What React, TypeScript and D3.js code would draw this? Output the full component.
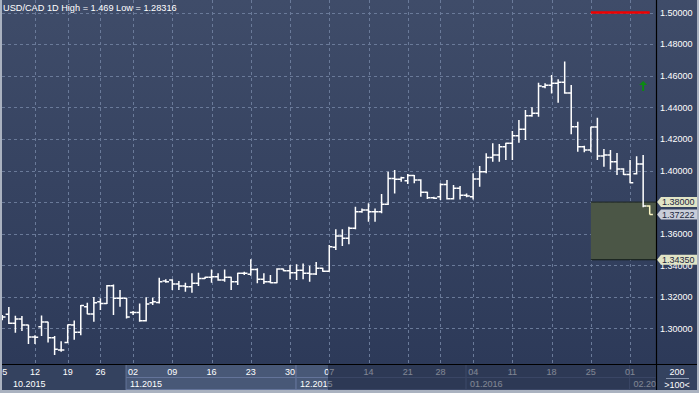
import { useEffect, useRef } from 'react';
import * as d3 from 'd3';

// daily bars, USD/CAD 1D (05.10.2015 .. 02.02.2016)
const opens = [
  1.3066, 1.3090, 1.3033, 1.3060, 1.3022, 1.2946, 1.3011, 1.3041, 1.2941, 1.2864,
  1.2912, 1.3022, 1.2976, 1.3138, 1.3091, 1.3169, 1.3159, 1.3271, 1.3191, 1.3191,
  1.3102, 1.3102, 1.3049, 1.3163, 1.3165, 1.3300, 1.3307, 1.3281, 1.3269, 1.3264,
  1.3286, 1.3317, 1.3324, 1.3327, 1.3307, 1.3324, 1.3296, 1.3349, 1.3343, 1.3374,
  1.3311, 1.3296, 1.3289, 1.3376, 1.3365, 1.3353, 1.3368, 1.3349, 1.3345, 1.3381,
  1.3362, 1.3514, 1.3585, 1.3571, 1.3634, 1.3739, 1.3750, 1.3739, 1.3739, 1.3786,
  1.3950, 1.3944, 1.3935, 1.3969, 1.3940, 1.3862, 1.3828, 1.3834, 1.3912, 1.3821,
  1.3887, 1.3843, 1.3834, 1.3946, 1.3992, 1.4083, 1.4098, 1.4150, 1.4172, 1.4220,
  1.4261, 1.4347, 1.4362, 1.4530, 1.4540, 1.4552, 1.4558, 1.4490, 1.4277, 1.4150,
  1.4130, 1.4275, 1.4092, 1.4098, 1.4055, 1.4009, 1.3975, 1.3980, 1.4041, 1.3775,
];
const highs = [
  1.3085, 1.3136, 1.3081, 1.3079, 1.3024, 1.2958, 1.3083, 1.3043, 1.2952, 1.2920,
  1.3026, 1.3051, 1.3148, 1.3163, 1.3199, 1.3191, 1.3275, 1.3279, 1.3243, 1.3195,
  1.3110, 1.3159, 1.3197, 1.3195, 1.3321, 1.3311, 1.3311, 1.3300, 1.3289, 1.3349,
  1.3353, 1.3327, 1.3374, 1.3349, 1.3374, 1.3327, 1.3353, 1.3359, 1.3438, 1.3381,
  1.3349, 1.3338, 1.3381, 1.3378, 1.3402, 1.3406, 1.3412, 1.3397, 1.3421, 1.3384,
  1.3528, 1.3628, 1.3628, 1.3644, 1.3771, 1.3760, 1.3792, 1.3760, 1.3851, 1.3992,
  1.4003, 1.3960, 1.3978, 1.3971, 1.3944, 1.3866, 1.3834, 1.3919, 1.3940, 1.3908,
  1.3902, 1.3855, 1.3982, 1.4028, 1.4109, 1.4172, 1.4167, 1.4176, 1.4250, 1.4319,
  1.4383, 1.4400, 1.4556, 1.4552, 1.4604, 1.4577, 1.4690, 1.4541, 1.4309, 1.4157,
  1.4277, 1.4334, 1.4136, 1.4130, 1.4111, 1.4014, 1.4066, 1.4090, 1.4098, 1.3780,
];
const lows = [
  1.3053, 1.3028, 1.2973, 1.2984, 1.2902, 1.2902, 1.2952, 1.2912, 1.28316, 1.2853,
  1.2906, 1.2929, 1.2958, 1.3090, 1.3043, 1.3117, 1.3155, 1.3085, 1.3138, 1.3064,
  1.3085, 1.3043, 1.3045, 1.3148, 1.3159, 1.3289, 1.3243, 1.3243, 1.3233, 1.3226,
  1.3269, 1.3313, 1.3289, 1.3302, 1.3296, 1.3243, 1.3275, 1.3338, 1.3334, 1.3286,
  1.3281, 1.3286, 1.3286, 1.3362, 1.3311, 1.3307, 1.3311, 1.3296, 1.3338, 1.3359,
  1.3359, 1.3497, 1.3522, 1.3534, 1.3628, 1.3733, 1.3676, 1.3676, 1.3729, 1.3781,
  1.3855, 1.3929, 1.3914, 1.3919, 1.3834, 1.3819, 1.3819, 1.3813, 1.3817, 1.3817,
  1.3817, 1.3830, 1.3817, 1.3897, 1.3982, 1.4055, 1.4055, 1.4066, 1.4066, 1.4176,
  1.4193, 1.4340, 1.4340, 1.4520, 1.4488, 1.4429, 1.4485, 1.4229, 1.4119, 1.4115,
  1.4115, 1.4066, 1.4024, 1.4007, 1.3971, 1.3971, 1.3919, 1.3975, 1.3767, 1.37222,
];
const closes = [
  1.3072, 1.3033, 1.3060, 1.3022, 1.2946, 1.2944, 1.3041, 1.2941, 1.2868, 1.2864,
  1.3024, 1.2976, 1.3146, 1.3091, 1.3163, 1.3159, 1.3271, 1.3191, 1.3191, 1.3072,
  1.3102, 1.3049, 1.3155, 1.3169, 1.3296, 1.3296, 1.3281, 1.3269, 1.3264, 1.3286,
  1.3317, 1.3324, 1.3327, 1.3307, 1.3324, 1.3296, 1.3349, 1.3349, 1.3374, 1.3311,
  1.3296, 1.3289, 1.3376, 1.3365, 1.3353, 1.3368, 1.3349, 1.3345, 1.3381, 1.3362,
  1.3517, 1.3585, 1.3571, 1.3634, 1.3739, 1.3750, 1.3739, 1.3739, 1.3786, 1.3950,
  1.3944, 1.3954, 1.3969, 1.3940, 1.3862, 1.3828, 1.3824, 1.3912, 1.3821, 1.3887,
  1.3843, 1.3838, 1.3946, 1.3992, 1.4083, 1.4098, 1.4150, 1.4172, 1.4220, 1.4261,
  1.4347, 1.4362, 1.4535, 1.4540, 1.4552, 1.4558, 1.4490, 1.4277, 1.4150, 1.4130,
  1.4275, 1.4092, 1.4098, 1.4055, 1.4009, 1.3975, 1.3923, 1.4041, 1.3775, 1.37222,
];

const dayLabels = ['05', '12', '19', '26', '02', '09', '16', '23', '30', '07', '14', '21', '28', '04', '11', '18', '25', '01'];
const dayIndex = [0, 5, 10, 15, 20, 26, 32, 38, 44, 50, 56, 62, 67, 72, 78, 84, 90, 96];
const monthLabels = ['10.2015', '11.2015', '12.2015', '01.2016', '02.2016'];
const monthIndex = [0, 19, 45, 71, 96];
const priceTicks = [1.30, 1.32, 1.34, 1.36, 1.38, 1.40, 1.42, 1.44, 1.46, 1.48, 1.50];

const alertLevel = 1.5;
const zoneTop = 1.38;
const zoneBottom = 1.3435;
const lastPrice = 1.37222;
const zoneFrom = 90;
const arrowAt = 98;
const arrowPrice = 1.4535;

const FONT = "'Liberation Sans', Arial, sans-serif";

const App = () => {
  const svgRef = useRef<SVGSVGElement | null>(null);

  useEffect(() => {
    const width = 699;
    const height = 393;
    const plotL = 2, plotR = 656, plotB = 364, bandB = 390;

    const svg = d3.select(svgRef.current);
    svg.selectAll('*').remove();
    svg.attr('width', width).attr('height', height);

    const x = d3.scaleLinear().domain([0, 99]).range([2.3, 649.7]);
    const y = d3.scaleLinear().domain([1.28, 1.5]).range([360.1, 12.5]);

    const defs = svg.append('defs');
    const grad = defs.append('linearGradient').attr('id', 'bg').attr('x1', 0).attr('y1', 0).attr('x2', 0).attr('y2', 1);
    grad.append('stop').attr('offset', '0%').attr('stop-color', '#3f4c69');
    grad.append('stop').attr('offset', '100%').attr('stop-color', '#2d3a59');
    defs.append('clipPath').attr('id', 'plotclip')
      .append('rect').attr('x', plotL).attr('y', 0).attr('width', plotR - plotL).attr('height', plotB);
    defs.append('clipPath').attr('id', 'bandclip')
      .append('rect').attr('x', plotL).attr('y', plotB).attr('width', plotR - plotL).attr('height', bandB - plotB);

    // frame + backgrounds
    svg.append('rect').attr('width', width).attr('height', height).attr('fill', '#aab2c0');
    svg.append('rect').attr('x', plotL).attr('y', 0).attr('width', 697 - plotL).attr('height', plotB).attr('fill', 'url(#bg)');
    svg.append('rect').attr('x', plotL).attr('y', plotB).attr('width', 697 - plotL).attr('height', bandB - plotB).attr('fill', '#34425f');

    // grid
    const grid = svg.append('g').attr('clip-path', 'url(#plotclip)')
      .attr('stroke', '#6a7a99').attr('stroke-dasharray', '3,3').attr('stroke-width', 1);
    priceTicks.forEach(p => {
      grid.append('line').attr('x1', plotL).attr('x2', plotR)
        .attr('y1', Math.round(y(p)) + 0.5).attr('y2', Math.round(y(p)) + 0.5);
    });
    dayIndex.slice(1).forEach(i => {
      grid.append('line').attr('x1', Math.round(x(i)) + 0.5).attr('x2', Math.round(x(i)) + 0.5)
        .attr('y1', 0).attr('y2', plotB);
    });

    // support zone
    const zone = svg.append('g');
    zone.append('rect').attr('x', x(zoneFrom)).attr('y', y(zoneTop))
      .attr('width', plotR - x(zoneFrom)).attr('height', y(zoneBottom) - y(zoneTop))
      .attr('fill', '#4b5646');
    zone.append('line').attr('x1', x(zoneFrom)).attr('x2', plotR).attr('y1', y(zoneTop)).attr('y2', y(zoneTop))
      .attr('stroke', '#1e2622').attr('stroke-width', 1);
    zone.append('line').attr('x1', x(zoneFrom)).attr('x2', plotR).attr('y1', y(zoneBottom)).attr('y2', y(zoneBottom))
      .attr('stroke', '#111a14').attr('stroke-width', 1.2);

    // alert line
    svg.append('line').attr('x1', x(zoneFrom)).attr('x2', x(99)).attr('y1', y(alertLevel)).attr('y2', y(alertLevel))
      .attr('stroke', '#f00000').attr('stroke-width', 2.5);

    // OHLC bars
    const bars = svg.append('g').attr('clip-path', 'url(#plotclip)');
    opens.forEach((o, i) => {
      const cx = x(i);
      const d = `M${cx},${y(highs[i])}V${y(lows[i])}M${cx - 3.2},${y(o)}H${cx}M${cx},${y(closes[i])}H${cx + 3.2}`;
      bars.append('path').attr('d', d).attr('fill', 'none')
        .attr('stroke', i === opens.length - 1 ? '#fbf6c4' : '#ffffff').attr('stroke-width', 1.5);
    });

    // up arrow signal
    const ax = x(arrowAt), ay = y(arrowPrice);
    svg.append('path')
      .attr('d', `M${ax},${ay - 5}L${ax + 4},${ay - 1}L${ax + 1},${ay - 1}V${ay + 5}H${ax - 1}V${ay - 1}H${ax - 4}Z`)
      .attr('fill', '#0b8a12');

    // title
    svg.append('text').attr('x', 3).attr('y', 11).attr('fill', '#ffffff')
      .style('font-family', FONT).style('font-size', '9.2px')
      .text(`USD/CAD 1D High = ${d3.max(highs)} Low = ${d3.min(lows)}`);

    // right axis
    const yAxis = svg.append('g').style('font-family', FONT).style('font-size', '9px').attr('fill', '#ffffff');
    priceTicks.forEach(p => {
      yAxis.append('text').attr('x', 660).attr('y', y(p) + 3.3).text(p.toFixed(5));
    });

    // price tags
    const tags = [
      { v: zoneTop, fill: '#e1e4c6' },
      { v: lastPrice, fill: '#c9cdd9' },
      { v: zoneBottom, fill: '#e1e4c6' },
    ];
    tags.forEach(t => {
      const ty = y(t.v);
      svg.append('path')
        .attr('d', `M657,${ty}L661,${ty - 5}H697V${ty + 5}H661Z`)
        .attr('fill', t.fill);
      svg.append('text').attr('x', 662).attr('y', ty + 3.3).attr('fill', '#1c2740')
        .style('font-family', FONT).style('font-size', '9px').text(t.v.toFixed(5));
    });

    // bottom band: months
    const band = svg.append('g').attr('clip-path', 'url(#bandclip)').style('font-family', FONT).style('font-size', '9px');
    monthIndex.forEach((mi, k) => {
      const x0 = x(mi) - 0.5;
      const x1 = k < monthIndex.length - 1 ? x(monthIndex[k + 1]) - 0.5 : plotR;
      if (k > 0) {
        band.append('rect').attr('x', x0).attr('y', plotB + 0.5).attr('width', x1 - x0).attr('height', bandB - plotB - 1)
          .attr('fill', '#485877').attr('stroke', '#64749a').attr('stroke-width', 1);
        band.append('line').attr('x1', x0).attr('x2', x1).attr('y1', 377.5).attr('y2', 377.5)
          .attr('stroke', '#64749a');
      }
      band.append('text').attr('x', k === 0 ? 13 : x0 + 4).attr('y', 387).attr('fill', '#ffffff').text(monthLabels[k]);
    });
    dayIndex.forEach((di, k) => {
      band.append('text').attr('x', x(di)).attr('y', 375).attr('text-anchor', 'middle')
        .attr('fill', '#ffffff').text(dayLabels[k]);
    });
    band.append('rect').attr('x', 328).attr('y', plotB).attr('width', plotR - 328).attr('height', bandB - plotB)
      .attr('fill', '#18203a').attr('opacity', 0.55);

    // separators
    svg.append('line').attr('x1', plotR + 0.5).attr('x2', plotR + 0.5).attr('y1', 0).attr('y2', bandB)
      .attr('stroke', '#000000').attr('stroke-width', 1.2);
    svg.append('line').attr('x1', plotL).attr('x2', 697).attr('y1', plotB + 0.5).attr('y2', plotB + 0.5)
      .attr('stroke', '#000000').attr('stroke-width', 1.2);

    // scale box
    const sb = svg.append('g').style('font-family', FONT).style('font-size', '9px').attr('fill', '#ffffff');
    sb.append('text').attr('x', 677).attr('y', 375).attr('text-anchor', 'middle').text('200');
    sb.append('line').attr('x1', 666).attr('x2', 689).attr('y1', 378.5).attr('y2', 378.5).attr('stroke', '#8a96ae');
    sb.append('text').attr('x', 677).attr('y', 388).attr('text-anchor', 'middle').text('>100<');
  }, []);

  return <svg ref={svgRef} style={{ position: 'absolute', left: 0, top: 0 }}></svg>;
};

export default App;
